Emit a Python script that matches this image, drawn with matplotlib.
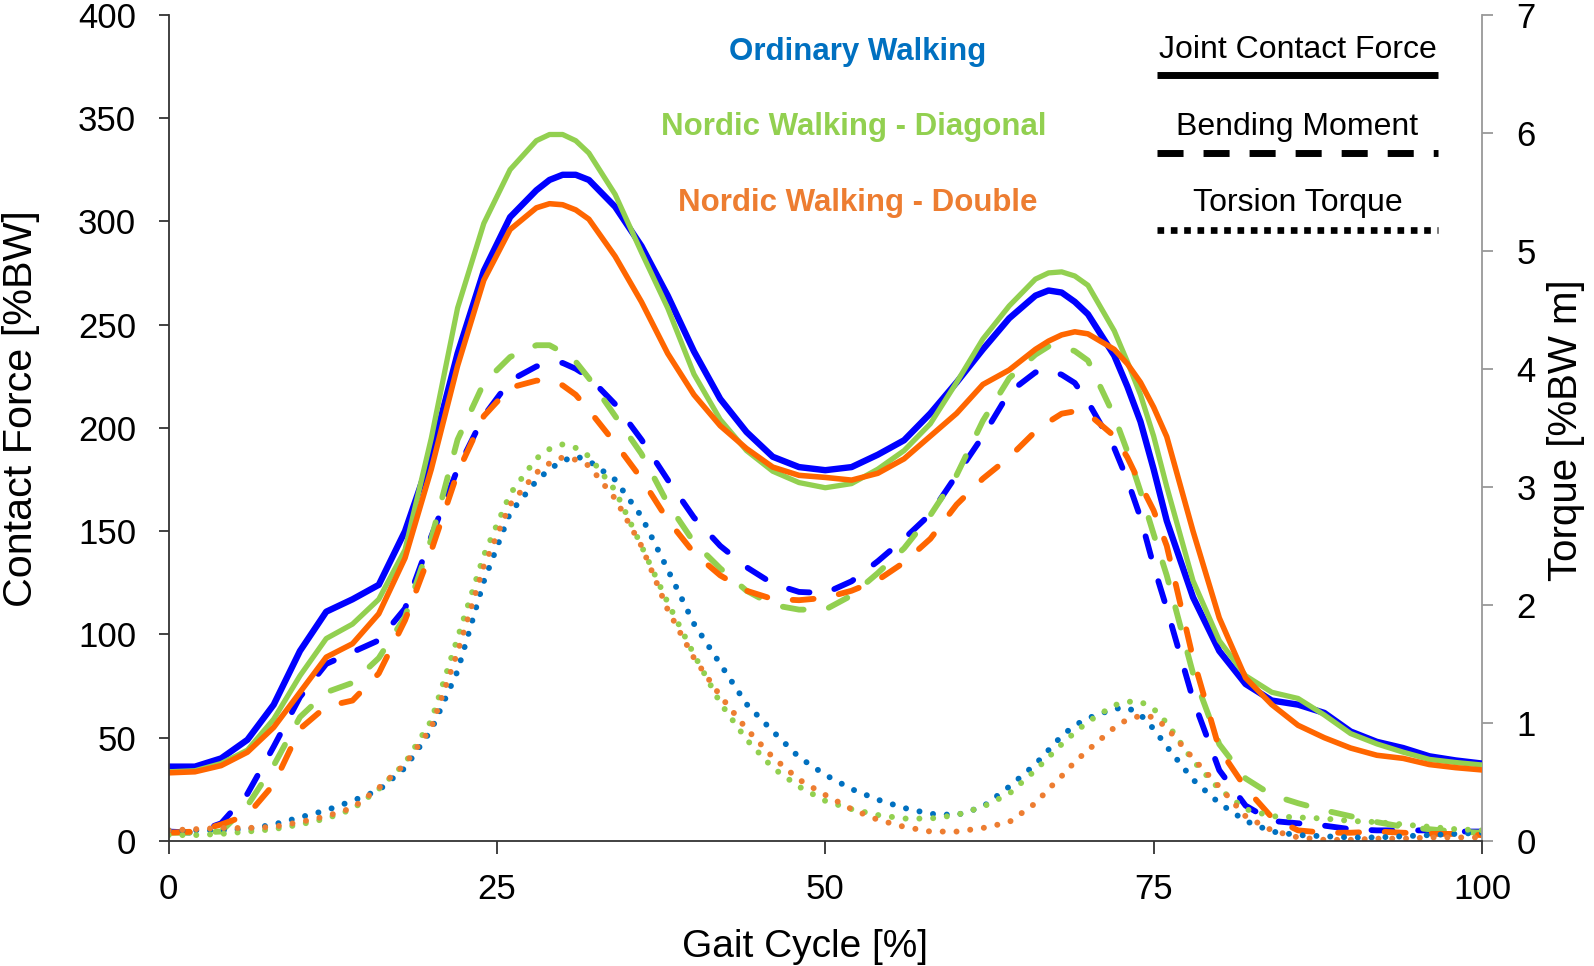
import numpy as np
import matplotlib
matplotlib.use("Agg")
import matplotlib.pyplot as plt

plt.rcParams['font.family'] = ['Liberation Sans', 'DejaVu Sans']

# Gait cycle [%]
gait = [0, 2, 4, 6, 8, 10, 12, 14, 16, 18, 20, 22, 24, 26, 28, 29, 30, 31,
        32, 34, 36, 38, 40, 42, 44, 46, 48, 50, 52, 54, 56, 58, 60, 62, 64, 66,
        67, 68, 69, 70, 72, 73, 74, 75, 76,
        78, 80, 82, 84, 86, 88, 90, 92, 94, 96, 98, 100]

# Joint contact force [%BW] (left axis)
jcf_ordinary = [36, 36, 40, 49, 66, 92, 111, 117, 124, 150, 187, 236, 276, 302, 315, 320, 322.5, 322.5,
                320, 307, 288, 264, 237, 214, 198, 186, 181, 179.5, 181, 187, 194, 207, 222, 238, 253, 264,
                266.5, 265.5, 261, 255, 235, 220, 203, 180, 155,
                118, 92, 76, 68, 66, 62, 53, 48, 45, 41, 39, 37.5]
jcf_diagonal = [33.5, 34, 37.5, 44, 59, 80, 98, 105, 117, 141, 195, 258, 299, 325, 339, 342, 342, 339,
                333, 313, 285, 258, 226, 204, 189, 179, 173.5, 171, 173, 180, 189, 202, 222, 243, 259, 272,
                275, 275.5, 273.5, 269, 247, 232, 216, 196, 171.5,
                126, 97, 80, 72, 69, 61, 52, 47, 43, 39.5, 38, 36.8]
jcf_double = [33, 33.5, 36.5, 43, 55, 72, 89, 95.5, 110, 137, 180, 230, 271.5, 296, 306.5, 308.5, 308, 305.5,
              301, 283, 261, 236, 216, 201, 190, 181, 177, 176, 174.7, 178, 185, 196, 207, 221, 228, 238,
              242, 245, 246.5, 245.5, 238, 231, 222, 210, 195.7,
              150, 108, 79, 66, 56, 50, 45, 41.5, 40, 37, 35.5, 34.4]

# Bending moment [%BWm] (right axis)
bm_ordinary = [0.08, 0.07, 0.15, 0.4, 0.8, 1.22, 1.5, 1.6, 1.7, 1.97, 2.58, 3.15, 3.6, 3.9, 4.02, 4.05, 4.05, 4.0,
               3.93, 3.7, 3.4, 3.06, 2.74, 2.5, 2.32, 2.18, 2.11, 2.1, 2.2, 2.37, 2.56, 2.77, 3.1, 3.43, 3.8, 3.97,
               3.99, 3.95, 3.88, 3.72, 3.33, 3.06, 2.74, 2.33, 1.97,
               1.2, 0.6, 0.3, 0.17, 0.15, 0.13, 0.1, 0.09, 0.09, 0.09, 0.08, 0.08]
bm_diagonal = [0.07, 0.07, 0.08, 0.3, 0.64, 1.05, 1.26, 1.34, 1.55, 1.9, 2.56, 3.4, 3.88, 4.1, 4.2, 4.2, 4.14, 4.06,
               3.92, 3.6, 3.28, 2.86, 2.53, 2.31, 2.12, 2.0, 1.96, 1.96, 2.08, 2.27, 2.48, 2.76, 3.1, 3.56, 3.92, 4.12,
               4.19, 4.19, 4.15, 4.07, 3.6, 3.3, 2.96, 2.6, 2.25,
               1.42, 0.82, 0.53, 0.39, 0.32, 0.26, 0.21, 0.16, 0.12, 0.1, 0.08, 0.07]
bm_double = [0.07, 0.08, 0.14, 0.22, 0.48, 0.95, 1.14, 1.19, 1.42, 1.87, 2.46, 3.12, 3.6, 3.84, 3.9, 3.9, 3.86, 3.78,
             3.65, 3.37, 3.07, 2.72, 2.44, 2.25, 2.12, 2.05, 2.04, 2.06, 2.12, 2.21, 2.36, 2.56, 2.85, 3.07, 3.25, 3.47,
             3.55, 3.62, 3.64, 3.62, 3.43, 3.25, 3.02, 2.8, 2.5,
             1.55, 0.78, 0.45, 0.2, 0.09, 0.07, 0.07, 0.08, 0.07, 0.06, 0.06, 0.05]

# Torsion torque [%BWm] (right axis)
tt_ordinary = [0.09, 0.09, 0.09, 0.1, 0.14, 0.2, 0.26, 0.34, 0.43, 0.62, 0.94, 1.44, 2.2, 2.78, 3.05, 3.15, 3.22, 3.26,
               3.22, 3.06, 2.75, 2.3, 1.84, 1.5, 1.16, 0.93, 0.71, 0.56, 0.44, 0.35, 0.28, 0.23, 0.22, 0.29, 0.46, 0.65,
               0.77, 0.89, 0.98, 1.04, 1.12, 1.13, 1.07, 0.95, 0.8,
               0.52, 0.32, 0.17, 0.08, 0.05, 0.04, 0.03, 0.03, 0.04, 0.05, 0.06, 0.07]
tt_diagonal = [0.05, 0.05, 0.06, 0.08, 0.1, 0.14, 0.19, 0.27, 0.44, 0.66, 1.02, 1.72, 2.42, 2.94, 3.24, 3.32, 3.36, 3.33,
               3.26, 2.97, 2.5, 2.02, 1.58, 1.17, 0.86, 0.62, 0.46, 0.34, 0.27, 0.22, 0.19, 0.19, 0.22, 0.29, 0.4, 0.6,
               0.71, 0.82, 0.92, 1.01, 1.15, 1.18, 1.18, 1.12, 1.0,
               0.68, 0.44, 0.27, 0.21, 0.2, 0.19, 0.17, 0.16, 0.14, 0.12, 0.1, 0.09]
tt_double = [0.09, 0.1, 0.11, 0.11, 0.12, 0.16, 0.21, 0.28, 0.45, 0.65, 0.96, 1.6, 2.33, 2.85, 3.12, 3.2, 3.25, 3.23,
             3.18, 2.9, 2.5, 1.96, 1.55, 1.23, 0.95, 0.71, 0.52, 0.39, 0.27, 0.18, 0.12, 0.08, 0.08, 0.11, 0.16, 0.32,
             0.44, 0.55, 0.67, 0.77, 0.96, 1.03, 1.06, 1.05, 0.96,
             0.7, 0.46, 0.21, 0.09, 0.03, 0.01, 0.01, 0.02, 0.02, 0.03, 0.03, 0.03]

conditions = ['Ordinary Walking', 'Nordic Walking - Diagonal', 'Nordic Walking - Double']
key_names = ['Joint Contact Force', 'Bending Moment', 'Torsion Torque']
line_colors = ['#0000FF', '#92D050', '#FF6600']
dot_colors = ['#0070C0', '#92D050', '#ED7D31']
text_colors = ['#0070C0', '#92D050', '#ED7D31']
solid_lw = [4.6, 3.8, 4.0]

fig = plt.figure(figsize=(15.94, 9.66), dpi=100)
ax = fig.add_axes([0.1058, 0.1294, 0.8239, 0.8554])
ax2 = ax.twinx()

x = np.array(gait)

# Right axis: bending moment (dashed) and torsion torque (dotted)
for vals, c in zip([bm_ordinary, bm_diagonal, bm_double], line_colors):
    ax2.plot(x, vals, color=c, lw=4.2, dashes=(3.6, 4.4), dash_capstyle='round', solid_joinstyle='round')
for vals, c in zip([tt_ordinary, tt_diagonal, tt_double], dot_colors):
    ax2.plot(x, vals, color=c, lw=4.3, dashes=(0.01, 2.3), dash_capstyle='round')

# Left axis: joint contact force (solid), drawn on top
ax.set_zorder(ax2.get_zorder() + 1)
ax.patch.set_visible(False)
for vals, c, lw in zip([jcf_ordinary, jcf_diagonal, jcf_double], line_colors, solid_lw):
    ax.plot(x, vals, color=c, lw=lw, solid_capstyle='round', solid_joinstyle='round')

ax.set_xlim(0, 100)
ax.set_ylim(0, 400)
ax2.set_ylim(0, 7)
ax.set_xticks([0, 25, 50, 75, 100])
ax.set_yticks(range(0, 401, 50))
ax2.set_yticks(range(0, 8))

for a in (ax, ax2):
    a.spines['top'].set_visible(False)
ax.spines['right'].set_visible(False)
ax2.spines['left'].set_visible(False)
ax2.spines['bottom'].set_visible(False)
ax.spines['left'].set_color('#333333')
ax.spines['bottom'].set_color('#333333')
ax.spines['left'].set_linewidth(1.3)
ax.spines['bottom'].set_linewidth(1.3)
ax2.spines['right'].set_color('#999999')
ax2.spines['right'].set_linewidth(1.3)

ax.tick_params(axis='y', direction='out', length=7.5, width=1.3, color='#333333', labelsize=25, pad=16)
ax.tick_params(axis='x', direction='out', length=9, width=1.3, color='#333333', labelsize=25, pad=14)
ax2.tick_params(axis='y', direction='out', length=8, width=1.3, color='#999999', labelsize=25, pad=17)

ax.set_ylabel('Contact Force [%BW]', fontsize=29.7)
ax.yaxis.set_label_coords(-0.098, 0.523)
ax2.set_ylabel('Torque [%BW m]', fontsize=29)
ax2.yaxis.set_label_coords(1.0495, 0.497)
ax.set_xlabel('Gait Cycle [%]', fontsize=28)
ax.xaxis.set_label_coords(0.4845, -0.106)

# Condition labels (colour key)
for name, c, (tx, ty) in zip(conditions, text_colors, [(0.5245, 0.9549), (0.5218, 0.864), (0.5249, 0.772)]):
    ax.text(tx, ty, name, color=c, fontsize=22.5, fontweight='bold', ha='center', va='center',
            transform=ax.transAxes)

# Line-style key
key_text_y = [0.957, 0.864, 0.7727]
key_line_y = [0.927, 0.8326, 0.7394]
x0, x1 = 0.7523, 0.9667
for name, ty in zip(key_names, key_text_y):
    ax.text(0.8595, ty, name, color='black', fontsize=23, ha='center', va='center', transform=ax.transAxes)
ax.plot([x0, x1], [key_line_y[0], key_line_y[0]], color='black', lw=5, solid_capstyle='butt',
        transform=ax.transAxes, clip_on=False)
ax.plot([x0, x1], [key_line_y[1], key_line_y[1]], color='black', lw=5, dashes=(3.75, 2.88),
        dash_capstyle='butt', transform=ax.transAxes, clip_on=False)
ax.plot([x0, x1], [key_line_y[2], key_line_y[2]], color='black', lw=4.8, dashes=(1, 1),
        dash_capstyle='butt', transform=ax.transAxes, clip_on=False)

fig.savefig('out.png', dpi=100)
